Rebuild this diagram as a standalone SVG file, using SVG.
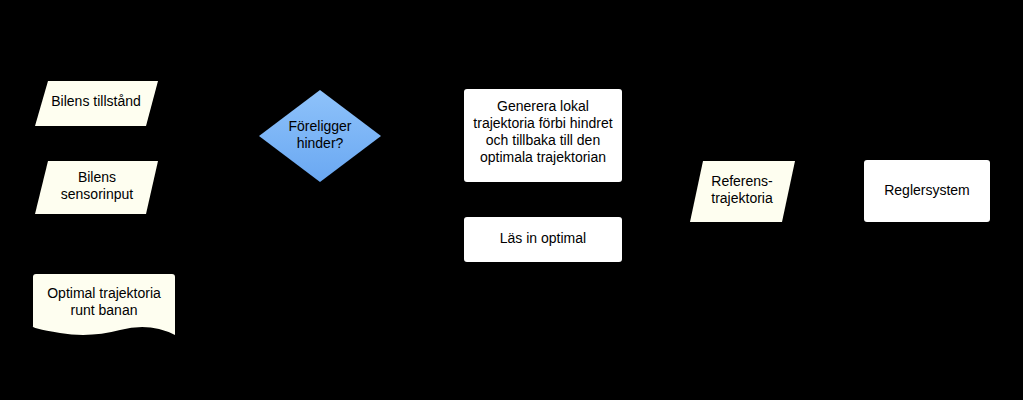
<svg xmlns="http://www.w3.org/2000/svg" width="1023" height="400" viewBox="0 0 1023 400">
<defs>
<style>
.c{fill:#fefef0}
.w{fill:#ffffff}
.t{font-family:"Liberation Sans",Arial,sans-serif;font-size:14px;fill:#000;text-anchor:middle}
.k{stroke:#000;stroke-width:1.5;fill:none}
</style>
<linearGradient id="g" x1="0" y1="0" x2="0" y2="1"><stop offset="0" stop-color="#8ec2fa"/><stop offset="1" stop-color="#6aa8f2"/></linearGradient>
<marker id="a" markerWidth="8" markerHeight="8" refX="7" refY="4" orient="auto"><path d="M0,0L8,4L0,8z" fill="#000"/></marker>
</defs>
<rect width="1023" height="400" fill="#000"/>
<g id="connectors">
<path class="k" d="M152,104H259" marker-end="url(#a)"/>
<path class="k" d="M381,136H464" marker-end="url(#a)"/>
<path class="k" d="M622,136H656V191H694" marker-end="url(#a)"/>
<path class="k" d="M789,191H864" marker-end="url(#a)"/>
</g>
<g id="n1"><path class="c" d="M48,81H158L146,126H35Z" stroke-linejoin="round"/><text class="t" x="96" y="106">Bilens tillstånd</text></g>
<g id="n2"><path class="c" d="M48,161H158L146,214H35Z"/><text class="t" x="97" y="182">Bilens</text><text class="t" x="97" y="199">sensorinput</text></g>
<g id="n3"><path class="c" d="M36,274H172Q175,274 175,277V335Q150,322 120,330T60,333T33,326V277Q33,274 36,274Z"/><text class="t" x="104" y="298">Optimal trajektoria</text><text class="t" x="104" y="315">runt banan</text></g>
<g id="n4"><path d="M320,90L381,136L320,182L259,136Z" fill="url(#g)" stroke-linejoin="round"/><text class="t" x="320" y="131">Föreligger</text><text class="t" x="320" y="148">hinder?</text></g>
<g id="n5"><rect class="w" x="464" y="89" width="158" height="93" rx="3"/><text class="t" x="543" y="111">Generera lokal</text><text class="t" x="543" y="128">trajektoria förbi hindret</text><text class="t" x="543" y="145">och tillbaka till den</text><text class="t" x="543" y="162">optimala trajektorian</text></g>
<g id="n6"><rect class="w" x="464" y="217" width="158" height="45" rx="3"/><text class="t" x="543" y="243">Läs in optimal</text></g>
<g id="n7"><path class="c" d="M703,161H795L782,222H690Z"/><text class="t" x="742" y="186">Referens-</text><text class="t" x="742" y="203">trajektoria</text></g>
<g id="n8"><rect class="w" x="864" y="160" width="126" height="62" rx="3"/><text class="t" x="927" y="195">Reglersystem</text></g>
</svg>
